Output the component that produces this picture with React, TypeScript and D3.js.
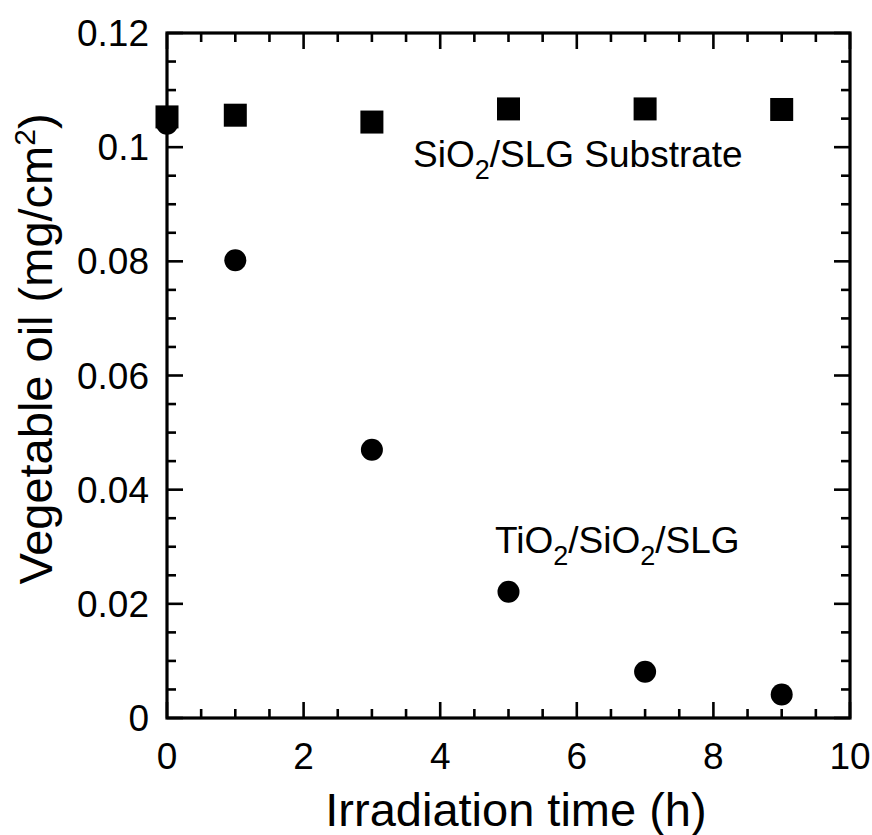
import React from "react";
import * as d3 from "d3";

const times = [0, 1, 3, 5, 7, 9];
const sio2Values = [0.1053, 0.1056, 0.1044, 0.1067, 0.1067, 0.1066];
const tio2Values = [0.1041, 0.0802, 0.047, 0.0221, 0.0081, 0.0041];
const xTicks = [0, 2, 4, 6, 8, 10];
const yTicks = [0, 0.02, 0.04, 0.06, 0.08, 0.1, 0.12];
const yTickLabels = ["0", "0.02", "0.04", "0.06", "0.08", "0.1", "0.12"];

const W = 872;
const H = 835;
const M = { left: 167, right: 850, top: 33, bottom: 718 };
const FONT = "'Liberation Sans', Arial, Helvetica, sans-serif";

export default function App() {
  const x = d3.scaleLinear().domain([0, 10]).range([M.left, M.right]);
  const y = d3.scaleLinear().domain([0, 0.12]).range([M.bottom, M.top]);

  const xMinor = d3.range(0, 10.001, 0.5).filter((v) => Math.abs(v / 2 - Math.round(v / 2)) > 1e-6);
  const yMinor = d3.range(0, 0.12001, 0.005).filter((v) => Math.abs(v / 0.02 - Math.round(v / 0.02)) > 1e-6);

  const major = 16;
  const minor = 9;
  const sq = 23;
  const r = 11;

  return (
    <svg
      width={W}
      height={H}
      style={{ position: "absolute", left: 0, top: 0, background: "#fff" }}
      fontFamily={FONT}
    >
      <rect x={0} y={0} width={W} height={H} fill="#fff" />
      <g stroke="#000" strokeWidth={2.6}>
        {xTicks.map((t) => (
          <g key={"xt" + t}>
            <line x1={x(t)} x2={x(t)} y1={M.bottom} y2={M.bottom - major} />
            <line x1={x(t)} x2={x(t)} y1={M.top} y2={M.top + major} />
          </g>
        ))}
        {xMinor.map((t) => (
          <g key={"xm" + t}>
            <line x1={x(t)} x2={x(t)} y1={M.bottom} y2={M.bottom - minor} />
            <line x1={x(t)} x2={x(t)} y1={M.top} y2={M.top + minor} />
          </g>
        ))}
        {yTicks.map((t) => (
          <g key={"yt" + t}>
            <line x1={M.left} x2={M.left + major} y1={y(t)} y2={y(t)} />
            <line x1={M.right} x2={M.right - major} y1={y(t)} y2={y(t)} />
          </g>
        ))}
        {yMinor.map((t) => (
          <g key={"ym" + t}>
            <line x1={M.left} x2={M.left + minor} y1={y(t)} y2={y(t)} />
            <line x1={M.right} x2={M.right - minor} y1={y(t)} y2={y(t)} />
          </g>
        ))}
      </g>
      <rect
        x={M.left}
        y={M.top}
        width={M.right - M.left}
        height={M.bottom - M.top}
        fill="none"
        stroke="#000"
        strokeWidth={3.2}
      />
      <g fontSize={37} fill="#000">
        {xTicks.map((t) => (
          <text key={"xl" + t} x={x(t)} y={769} textAnchor="middle">
            {t}
          </text>
        ))}
        {yTicks.map((t, i) => (
          <text key={"yl" + t} x={149} y={y(t) + 13} textAnchor="end">
            {yTickLabels[i]}
          </text>
        ))}
      </g>
      <text x={516} y={826} fontSize={47} textAnchor="middle" fill="#000">
        Irradiation time (h)
      </text>
      <text
        transform={`translate(52,349) rotate(-90)`}
        fontSize={47}
        textAnchor="middle"
        fill="#000"
      >
        Vegetable oil (mg/cm<tspan fontSize={30} dy={-17}>2</tspan>
        <tspan dy={17}>)</tspan>
      </text>
      <text x={413} y={167} fontSize={37} fill="#000">
        SiO<tspan fontSize={27} dy={12}>2</tspan>
        <tspan dy={-12}>/SLG Substrate</tspan>
      </text>
      <text x={495} y={553} fontSize={37} fill="#000">
        TiO<tspan fontSize={27} dy={12}>2</tspan>
        <tspan dy={-12}>/SiO</tspan>
        <tspan fontSize={27} dy={12}>2</tspan>
        <tspan dy={-12}>/SLG</tspan>
      </text>
      <g fill="#000">
        {times.map((t, i) => (
          <circle key={"c" + t} cx={x(t)} cy={y(tio2Values[i])} r={r} />
        ))}
        {times.map((t, i) => (
          <rect
            key={"s" + t}
            x={x(t) - sq / 2}
            y={y(sio2Values[i]) - sq / 2}
            width={sq}
            height={sq}
          />
        ))}
      </g>
    </svg>
  );
}
